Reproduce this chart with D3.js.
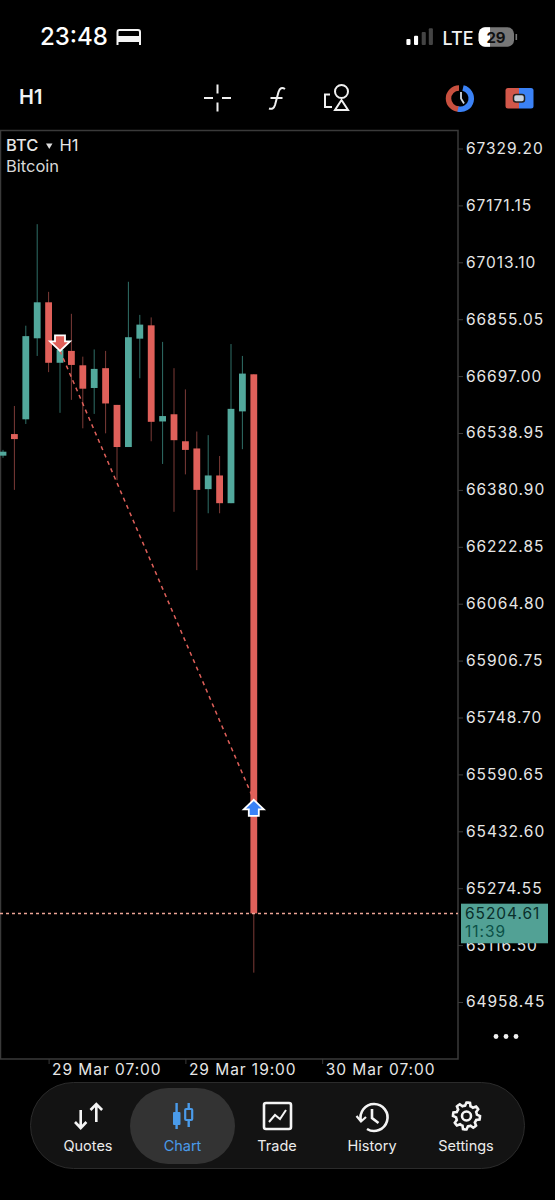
<!DOCTYPE html>
<html><head><meta charset="utf-8">
<script src="https://cdn.jsdelivr.net/npm/d3@7/dist/d3.min.js"></script>
<style>
html,body{margin:0;padding:0;background:#000}
svg{display:block}
text{font-family:Inter,"Noto Sans",sans-serif}
</style></head><body>
<svg id="c" width="555" height="1200"></svg>
<script>
const opens  = [66476,66536,66577,66802,66902,66734,66767,66727,66664,66719,66617,66500,66801,66838,66571,66591,66516,66496,66383,66421,66344,66599,66702];
const closes = [66487,66522,66808,66902,66734,66770,66728,66662,66717,66621,66500,66805,66840,66570,66586,66519,66492,66381,66421,66344,66606,66704,65204.61];
const highs  = [66492,66614,66837,67119,66931,66770,66870,66751,66771,66767,66617,66959,66867,66860,66792,66719,66660,66543,66533,66475,66786,66753,66702];
const lows   = [66470,66381,66564,66753,66708,66595,66631,66552,66592,66538,66408,66500,66691,66516,66453,66320,66424,66158,66316,66316,66344,66494,65040];
const priceTicks = [67329.20,67171.15,67013.10,66855.05,66697.00,66538.95,66380.90,66222.85,66064.80,65906.75,65748.70,65590.65,65432.60,65274.55,65116.50,64958.45];
const timeTickIdx = [4,16,28];
const timeLabels = ["29 Mar 07:00","29 Mar 19:00","30 Mar 07:00"];
const trade = [{i:5,p:66767},{i:22,p:65520}];
const lastPrice = 65204.61;
const countdown = "11:39";
const navItems = ["Quotes","Chart","Trade","History","Settings"];
const navX = [88,182.5,277,372,466];

const UP="#52a89c", DOWN="#e0605a", GRID="#3a3a3a", TXT="#e6e6e6";
const svg=d3.select("#c");
const x=d3.scaleLinear().domain([0,22]).range([3,253.8]);
const y=d3.scaleLinear().domain([67329.2,64958.45]).range([148.5,1002]);

// panel
svg.append("rect").attr("x",0.5).attr("y",130.5).attr("width",457.5).attr("height",928.5)
  .attr("fill","none").attr("stroke",GRID).attr("stroke-width",1.5);

// candles
const idx=d3.range(opens.length);
svg.append("defs").append("clipPath").attr("id","pc").append("rect")
  .attr("x",0).attr("y",131).attr("width",458).attr("height",928);
const g=svg.append("g").attr("clip-path","url(#pc)");
g.selectAll(".w").data(idx).join("line").attr("class","w")
  .attr("x1",i=>x(i)).attr("x2",i=>x(i)).attr("y1",i=>y(highs[i])).attr("y2",i=>y(lows[i]))
  .attr("stroke",i=>closes[i]>=opens[i]?"#2f6f67":"#7c3b37").attr("stroke-width",1);
g.selectAll(".b").data(idx).join("rect").attr("class","b")
  .attr("x",i=>x(i)-3.4).attr("width",6.8)
  .attr("y",i=>y(Math.max(opens[i],closes[i]))).attr("height",i=>Math.abs(y(opens[i])-y(closes[i])))
  .attr("fill",i=>closes[i]>=opens[i]?UP:DOWN);

// last price line
g.append("line").attr("x1",0).attr("x2",458).attr("y1",y(lastPrice)).attr("y2",y(lastPrice))
  .attr("stroke","#eda596").attr("stroke-width",1.5).attr("stroke-dasharray","3 3");

// trade line
g.append("path").attr("d",d3.line().x(d=>x(d.i)).y(d=>y(d.p))(trade))
  .attr("fill","none").attr("stroke",DOWN).attr("stroke-width",1.5).attr("stroke-dasharray","4 4");

// arrows
const ax=x(trade[0].i), ay=y(trade[0].p);
svg.append("path").attr("transform",`translate(${ax},${ay})`)
  .attr("d","M0,0L-10,-9.5L-5,-9.5L-5,-15.5L5,-15.5L5,-9.5L10,-9.5Z")
  .attr("fill",DOWN).attr("stroke","#fff").attr("stroke-width",1.8).attr("stroke-linejoin","miter");
const bx=x(trade[1].i), by=y(trade[1].p);
svg.append("path").attr("transform",`translate(${bx},${by})`)
  .attr("d","M0,0L10,9.5L5,9.5L5,16L-5,16L-5,9.5L-10,9.5Z")
  .attr("fill","#3b82f6").attr("stroke","#fff").attr("stroke-width",1.8);

// price axis
const ya=svg.append("g").attr("transform","translate(458,0)")
  .call(d3.axisRight(y).tickValues(priceTicks).tickFormat(d3.format(".2f")).tickSize(5).tickPadding(3));
ya.select(".domain").remove();
ya.selectAll("line").attr("stroke",GRID);
ya.selectAll("text").attr("fill",TXT).style("font-size","15.5px").style("letter-spacing","0.95px").style("font-family","Inter");

// time axis
const xa=svg.append("g").attr("transform","translate(0,1059)")
  .call(d3.axisBottom(x).tickValues(timeTickIdx).tickFormat((d,i)=>timeLabels[i]).tickSize(5).tickPadding(0));
xa.select(".domain").remove();
xa.selectAll("line").attr("stroke",GRID);
xa.selectAll("text").attr("fill",TXT).attr("text-anchor","start").attr("x",3).attr("y",5)
  .style("font-size","15.5px").style("letter-spacing","0.95px").style("font-family","Inter");

// price tag
svg.append("rect").attr("x",461).attr("y",y(lastPrice)-9.7).attr("width",87).attr("height",39.6).attr("fill","#52a195");
svg.append("text").attr("x",465).attr("y",y(lastPrice)+6).text(d3.format(".2f")(lastPrice))
  .attr("fill","#0a2f2b").style("font-size","15.5px").style("letter-spacing","0.95px");
svg.append("text").attr("x",465).attr("y",y(lastPrice)+24).text(countdown)
  .attr("fill","#0c5148").style("font-size","15.5px").style("letter-spacing","0.95px");

// header of chart
const t=(s,xx,yy,size,fill,w,anchor)=>svg.append("text").attr("x",xx).attr("y",yy).text(s)
  .attr("fill",fill||TXT).style("font-size",size+"px").attr("font-weight",w||400).attr("text-anchor",anchor||"start");
t("BTC",6,150.5,16.5,"#e6e6e6",500);
svg.append("path").attr("d","M46,143.5h6.5l-3.25,5.5Z").attr("fill","#ddd");
t("H1",59.5,150.5,16.5,"#e6e6e6");
t("Bitcoin",6,171.5,16.5,"#d8d8d8");
t("H1",19,104,20,"#f2f2f2",600);

// dots
svg.selectAll(".dot").data([496,506,516]).join("circle").attr("cx",d=>d).attr("cy",1036.5).attr("r",2.4).attr("fill","#f0f0f0");

// status bar
t("23:48",40,45,24,"#fff",500);
const w="#f4f4f4";
svg.append("path").attr("d","M117.5,45V32q0,-2 2,-2H138q2,0 2,2V45").attr("fill","none").attr("stroke",w).attr("stroke-width",2);
svg.append("rect").attr("x",117).attr("y",36).attr("width",23).attr("height",6).attr("fill",w);
[[406.4,39,"#fff"],[414,35.7,"#fff"],[421.7,32,"#444"],[428.8,28.3,"#444"]].forEach(b=>{
  svg.append("rect").attr("x",b[0]).attr("y",b[1]).attr("width",4.1).attr("height",45-b[1]).attr("rx",1).attr("fill",b[2]);
});
t("LTE",442.5,45,18,"#f2f2f2",500);
svg.append("rect").attr("x",478.6).attr("y",27.3).attr("width",35.4).attr("height",19.4).attr("rx",6.5).attr("fill","#777");
svg.append("path").attr("d","M485,27.3H490V46.7H485A6.4,6.4 0 0 1 478.6,40.3V33.7A6.4,6.4 0 0 1 485,27.3Z").attr("fill","#fff");
svg.append("rect").attr("x",515.5).attr("y",34).attr("width",1.6).attr("height",6).attr("fill","#777");
t("29",496,42.5,15,"#111",700,"middle");

// toolbar icons
const ic=svg.append("g").attr("fill","none").attr("stroke","#f0f0f0").attr("stroke-width",2);
ic.append("path").attr("d","M204,98h9M222,98h9M217.5,84.5v9M217.5,102.5v9");
ic.append("path").attr("d","M285,89q-4.5,-3 -6.5,3l-3.5,13q-1.5,5 -6,3.5M270.5,98h12").attr("stroke-width",2);
ic.append("circle").attr("cx",341.5).attr("cy",91.5).attr("r",6.5);
ic.append("path").attr("d","M341.5,100l6.5,10h-13Z");
ic.append("path").attr("d","M330,94.5h-5v12.5h7");
svg.append("path").attr("d","M459,88A10.5,10.5 0 0 0 459,109").attr("fill","none").attr("stroke","#c8503f").attr("stroke-width",5.5);
svg.append("path").attr("d","M463,88A10.5,10.5 0 1 1 458,109").attr("fill","none").attr("stroke","#3b82f6").attr("stroke-width",5.5);
svg.append("path").attr("d","M461,92v6.5l3,5").attr("fill","none").attr("stroke","#cfd6e0").attr("stroke-width",1.8);
svg.append("path").attr("d","M508,88H519V108.5H508q-2.5,0 -2.5,-2.5V90.5q0,-2.5 2.5,-2.5Z").attr("fill","#d2574a");
svg.append("path").attr("d","M519,88H531q2.5,0 2.5,2.5V106q0,2.5 -2.5,2.5H519Z").attr("fill","#3b82f6");
svg.append("rect").attr("x",513.5).attr("y",94.5).attr("width",11).attr("height",7.5).attr("rx",2.5).attr("fill","#c9d2de").attr("stroke","#222").attr("stroke-width",1.5);

// nav
svg.append("rect").attr("x",30.5).attr("y",1082.5).attr("width",494).attr("height",86).attr("rx",43).attr("fill","#131313").attr("stroke","#2b2b2b");
svg.append("rect").attr("x",130).attr("y",1088).attr("width",105).attr("height",76).attr("rx",38).attr("fill","#333333");
navItems.forEach((n,i)=>t(n,navX[i],1151,14.5,i==1?"#4a9bea":"#ececec",400,"middle"));
const n=svg.append("g").attr("fill","none").attr("stroke","#f4f4f4").attr("stroke-width",2.6);
n.append("path").attr("d","M80.7,1110V1128M75,1122l5.7,6l5.7,-6M96.3,1104V1122M90.5,1110l5.8,-6l5.8,6");
svg.append("path").attr("d","M176.6,1103V1129M188.7,1103V1127").attr("stroke","#4a9bea").attr("stroke-width",2.4);
svg.append("rect").attr("x",173).attr("y",1112).attr("width",7.5).attr("height",13).attr("rx",1).attr("fill","#4a9bea");
svg.append("rect").attr("x",185.2).attr("y",1109).attr("width",7).attr("height",11).attr("rx",1).attr("fill","#333").attr("stroke","#4a9bea").attr("stroke-width",2.2);
n.append("rect").attr("x",264).attr("y",1103).attr("width",27).attr("height",26).attr("rx",2);
n.append("path").attr("d","M269,1122l6,-7l5,4l6,-9").attr("stroke-width",2);
n.append("path").attr("d","M361,1121A13.5,13.5 0 1 1 367,1129");
n.append("path").attr("d","M356.5,1116l4.5,5.5l5,-4.5").attr("stroke-width",2.2);
n.append("path").attr("d","M372,1109v9l6.5,5");
const gear=d3.range(0,48).map(k=>{const a=k/48*2*Math.PI,ph=(k%6);return [a,(ph<3)?13.5:10.5];});
n.append("path").attr("transform","translate(466.5,1116)").attr("d",d3.lineRadial().curve(d3.curveLinearClosed)(gear));
n.append("circle").attr("cx",466.5).attr("cy",1116).attr("r",4.5);
</script>
</body></html>
